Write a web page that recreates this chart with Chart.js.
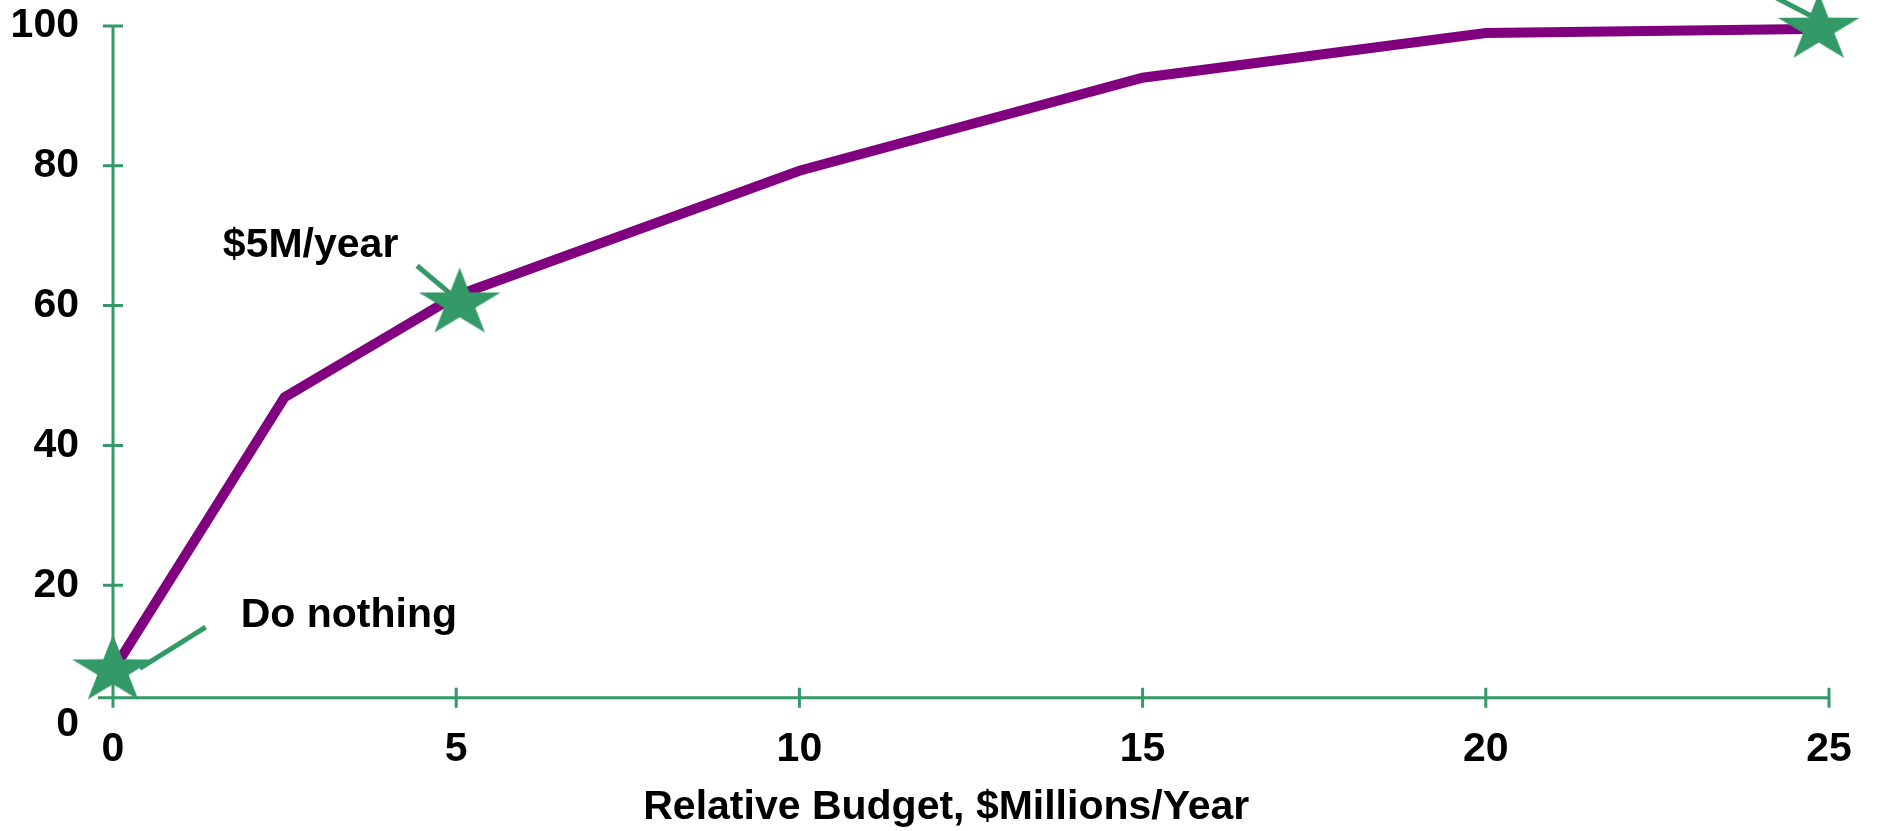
<!DOCTYPE html>
<html>
<head>
<meta charset="utf-8">
<script src="https://cdn.jsdelivr.net/npm/chart.js@4"></script>
<style>
  html, body { margin: 0; padding: 0; background: #fff; }
  #wrap { width: 1881px; height: 831px; position: relative; }
</style>
</head>
<body>
<div id="wrap"><canvas id="chart"></canvas></div>
<script>
// values
const budget = [0, 2.5, 5, 10, 15, 20, 25];
const benefit = [7.8, 46.9, 61.4, 79.3, 92.6, 99.0, 99.6];

const markerBudget = [0, 5.05, 24.85];
const markerBenefit = [7.8, 60.3, 99.6];

const calloutText = ['Do nothing', '$5M/year'];
const xTitle = 'Relative Budget, $Millions/Year';

// annotation placement, in data units
const calloutAt = [[1.86, 14.0], [1.60, 67.0]];
const leaders = [
  [[0.39, 8.1], [1.35, 14.0]],
  [[4.43, 65.7], [5.0, 61.0]],
  [[24.16, 104.4], [24.75, 101.4]]
];
const titleCenter = 12.14;
const xAxisCrossing = 3.9;
const xAxisStart = -0.22;

const green = '#339966';
const purple = '#800080';
const font = { family: '"Liberation Sans", Arial, sans-serif', size: 41, weight: 'bold' };
const fontCss = `${font.weight} ${font.size}px ${font.family}`;

function makeStar(rx, ry, color) {
  const c = document.createElement('canvas');
  c.width = Math.ceil(rx * 2) + 4;
  c.height = Math.ceil(ry * 2) + 4;
  const g = c.getContext('2d');
  const cx = c.width / 2, cy = c.height / 2;
  g.beginPath();
  for (let i = 0; i < 10; i++) {
    const r = i % 2 ? 0.382 : 1;
    const a = -Math.PI / 2 + i * Math.PI / 5;
    g.lineTo(cx + Math.cos(a) * r * rx, cy + Math.sin(a) * r * ry);
  }
  g.closePath();
  g.fillStyle = color;
  g.fill();
  return c;
}

const axesPlugin = {
  id: 'greenAxes',
  beforeDatasetsDraw(chart) {
    const { ctx, scales: { x, y } } = chart;
    const axisY = y.getPixelForValue(xAxisCrossing);
    const x0 = x.getPixelForValue(0);
    ctx.save();
    ctx.strokeStyle = green;
    ctx.lineWidth = 3;
    ctx.beginPath();
    ctx.moveTo(x0, y.getPixelForValue(100));
    ctx.lineTo(x0, axisY);
    ctx.moveTo(x.getPixelForValue(xAxisStart), axisY);
    ctx.lineTo(x.getPixelForValue(25), axisY);
    x.ticks.forEach(t => {
      const px = x.getPixelForValue(t.value);
      ctx.moveTo(px, axisY - 10);
      ctx.lineTo(px, axisY + 10);
    });
    y.ticks.forEach(t => {
      if (t.value === 0) return;
      const py = y.getPixelForValue(t.value);
      ctx.moveTo(x0 - 10, py);
      ctx.lineTo(x0 + 10, py);
    });
    ctx.stroke();

    ctx.lineWidth = 5;
    ctx.beginPath();
    leaders.forEach(([a, b]) => {
      ctx.moveTo(x.getPixelForValue(a[0]), y.getPixelForValue(a[1]));
      ctx.lineTo(x.getPixelForValue(b[0]), y.getPixelForValue(b[1]));
    });
    ctx.stroke();
    ctx.restore();
  },
  afterDatasetsDraw(chart) {
    const { ctx, scales: { x, y } } = chart;
    ctx.save();
    ctx.fillStyle = '#000';
    ctx.font = fontCss;
    ctx.textAlign = 'left';
    ctx.textBaseline = 'alphabetic';
    calloutText.forEach((txt, i) => {
      ctx.fillText(txt, x.getPixelForValue(calloutAt[i][0]), y.getPixelForValue(calloutAt[i][1]));
    });
    // axis title
    ctx.textAlign = 'center';
    ctx.fillText(xTitle, x.getPixelForValue(titleCenter), x.bottom - 12);
    ctx.restore();
  }
};

const star = makeStar(43, 36, green);

new Chart(document.getElementById('chart'), {
  type: 'scatter',
  data: {
    datasets: [
      {
        label: 'Markers',
        data: markerBudget.map((v, i) => ({ x: v, y: markerBenefit[i] })),
        pointStyle: star,
        showLine: false,
        clip: false
      },
      {
        label: 'Benefit',
        data: budget.map((v, i) => ({ x: v, y: benefit[i] })),
        showLine: true,
        borderColor: purple,
        borderWidth: 10,
        borderJoinStyle: 'miter',
        pointRadius: 0,
        tension: 0,
        clip: false
      }
    ]
  },
  options: {
    responsive: true,
    maintainAspectRatio: false,
    animation: false,
    events: [],
    layout: { padding: { top: 26, right: 52, bottom: 0, left: 0 } },
    plugins: {
      legend: { display: false },
      tooltip: { enabled: false }
    },
    scales: {
      x: {
        type: 'linear',
        min: 0,
        max: 25,
        grid: { display: false, drawTicks: false },
        border: { display: false },
        ticks: { stepSize: 5, color: '#000', font: font, padding: 0, maxRotation: 0 },
        title: { display: false },
        afterFit(scale) { scale.height = 106; }
      },
      y: {
        min: 0,
        max: 100,
        grid: { display: false, drawTicks: false },
        border: { display: false },
        ticks: { stepSize: 20, color: '#000', font: font, padding: 34 },
        afterFit(scale) {
          scale.width = 113;
          scale.paddingTop = 0;
          scale.paddingBottom = 0;
        }
      }
    }
  },
  plugins: [axesPlugin]
});
</script>
</body>
</html>
